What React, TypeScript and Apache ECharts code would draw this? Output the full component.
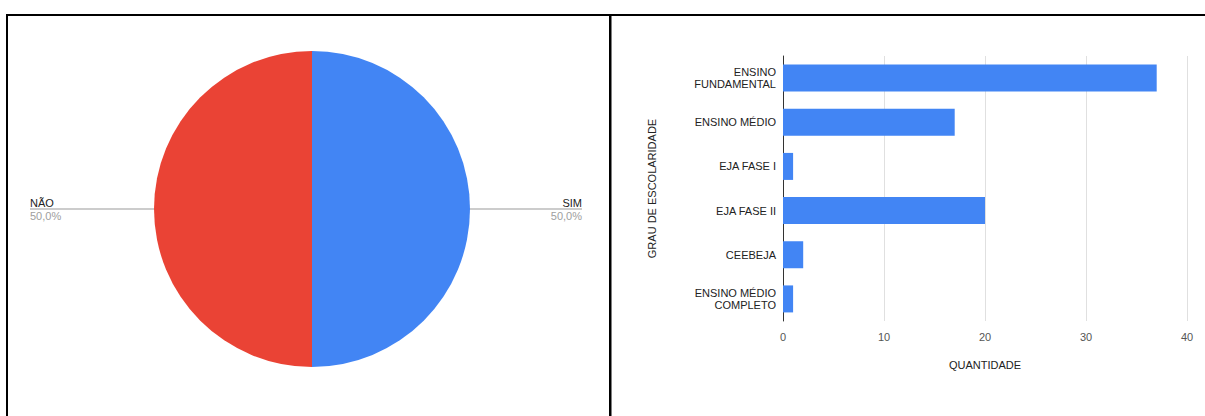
import React, { useEffect, useRef } from "react";
import * as echarts from "echarts";

const pieNames = ["SIM", "NÃO"];
const pieValues = [50, 50];
const pieColors = ["#4285f4", "#ea4335"];

const categories = [
  "ENSINO\nFUNDAMENTAL",
  "ENSINO MÉDIO",
  "EJA FASE I",
  "EJA FASE II",
  "CEEBEJA",
  "ENSINO MÉDIO\nCOMPLETO",
];
const quantities = [37, 17, 1, 20, 2, 1];
const xTicks = [0, 10, 20, 30, 40];

const FONT = "'Liberation Sans', Arial, sans-serif";

export default function App() {
  const ref = useRef<HTMLDivElement>(null);
  useEffect(() => {
    if (!ref.current) return;
    const chart = echarts.init(ref.current, undefined, { renderer: "svg" });
    const cx = 312;
    chart.setOption({
      animation: false,
      textStyle: { fontFamily: FONT },
      graphic: [
        { type: "rect", shape: { x: 6, y: 14, width: 1199, height: 2 }, style: { fill: "#000" }, silent: true },
        { type: "rect", shape: { x: 6, y: 14, width: 2, height: 402 }, style: { fill: "#000" }, silent: true },
        { type: "rect", shape: { x: 609, y: 14, width: 2.5, height: 402 }, style: { fill: "#000" }, silent: true },
      ],
      grid: { left: 783, width: 404, top: 56, height: 265, containLabel: false },
      xAxis: {
        type: "value",
        min: xTicks[0],
        max: xTicks[xTicks.length - 1],
        interval: 10,
        axisLine: { show: false },
        axisTick: { show: false },
        splitLine: { lineStyle: { color: "#e0e0e0", width: 1 } },
        axisLabel: { color: "#555", fontSize: 11, margin: 10, fontFamily: FONT },
        name: "QUANTIDADE",
        nameLocation: "middle",
        nameGap: 38,
        nameTextStyle: { color: "#222", fontSize: 11, fontFamily: FONT },
      },
      yAxis: {
        type: "category",
        inverse: true,
        data: categories,
        axisLine: { show: true, lineStyle: { color: "#333", width: 1 } },
        axisTick: { show: false },
        axisLabel: { color: "#222", fontSize: 11, margin: 7, lineHeight: 12, align: "right", fontFamily: FONT },
        name: "GRAU DE ESCOLARIDADE",
        nameLocation: "middle",
        nameRotate: 90,
        nameGap: 126,
        nameTextStyle: { color: "#222", fontSize: 11, fontFamily: FONT },
      },
      series: [
        {
          type: "bar",
          data: quantities,
          barWidth: 27,
          itemStyle: { color: "#4285f4" },
          z: 3,
        },
        {
          type: "pie",
          center: [cx, 209],
          radius: 158,
          startAngle: 90,
          clockwise: true,
          data: pieNames.map((n, i) => ({ name: n, value: pieValues[i], itemStyle: { color: pieColors[i] } })),
          label: {
            show: true,
            position: "outside",
            formatter: (p: any) => `{n|${p.name}}\n{p|${p.percent.toFixed(1).replace(".", ",")}%}`,
            rich: {
              n: { color: "#222", fontSize: 11, lineHeight: 13, fontFamily: FONT },
              p: { color: "#9e9e9e", fontSize: 11, lineHeight: 13, fontFamily: FONT },
            },
          },
          labelLine: { show: true, lineStyle: { color: "#999", width: 1 }, length: 10, length2: 10 },
          labelLayout: (params: any) => {
            const pts = params.labelLinePoints;
            const p0 = pts ? pts[0] : [0, 209];
            const isLeft = p0[0] < cx;
            const endX = isLeft ? 30 : 582;
            const startX = isLeft ? p0[0] + 6 : p0[0] - 6;
            return {
              x: endX,
              y: p0[1],
              align: isLeft ? "left" : "right",
              verticalAlign: "middle",
              labelLinePoints: [
                [startX, p0[1]],
                [(startX + endX) / 2, p0[1]],
                [endX, p0[1]],
              ],
            };
          },
        },
      ],
    });
    return () => chart.dispose();
  }, []);
  return (
    <div
      ref={ref}
      style={{ position: "absolute", left: 0, top: 0, width: 1205, height: 416, background: "#fff" }}
    />
  );
}
